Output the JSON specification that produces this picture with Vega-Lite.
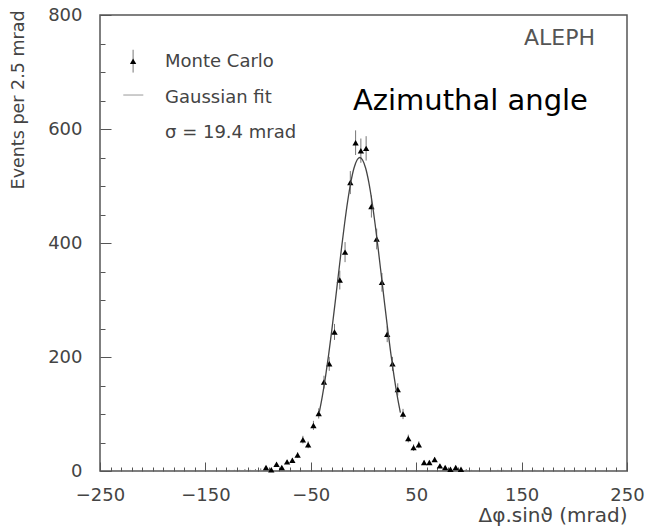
{
  "$schema": "https://vega.github.io/schema/vega-lite/v6.json",
  "width": 527,
  "height": 456,
  "autosize": "none",
  "padding": {"left": 100, "top": 15, "right": 23, "bottom": 60},
  "background": "white",
  "config": {
    "view": {"stroke": "#555", "strokeWidth": 1.5},
    "font": "DejaVu Sans",
    "axis": {"labelOverlap": false, "labelBound": false}
  },
  "datasets": {
    "mc": [
      {"x": -127.5, "n": 1, "err": 1}, {"x": -122.5, "n": 1, "err": 1}, {"x": -117.5, "n": 1, "err": 1},
      {"x": -112.5, "n": 2, "err": 1.3}, {"x": -107.5, "n": 1, "err": 1}, {"x": -102.5, "n": 2, "err": 1.3},
      {"x": -97.5, "n": 3, "err": 1.6}, {"x": -92.5, "n": 6, "err": 2.2}, {"x": -87.5, "n": 2, "err": 1.3},
      {"x": -82.5, "n": 12, "err": 3.1}, {"x": -77.5, "n": 6, "err": 2.2}, {"x": -72.5, "n": 16, "err": 3.6},
      {"x": -67.5, "n": 19, "err": 3.9}, {"x": -62.5, "n": 28, "err": 4.8}, {"x": -57.5, "n": 55, "err": 6.7},
      {"x": -52.5, "n": 46, "err": 6.1}, {"x": -47.5, "n": 80, "err": 8}, {"x": -42.5, "n": 101, "err": 9},
      {"x": -37.5, "n": 156, "err": 11.2}, {"x": -32.5, "n": 188, "err": 12.3}, {"x": -27.5, "n": 244, "err": 14},
      {"x": -22.5, "n": 335, "err": 16.5}, {"x": -17.5, "n": 384, "err": 17.6}, {"x": -12.5, "n": 506, "err": 20.2},
      {"x": -7.5, "n": 576, "err": 21.6}, {"x": -2.5, "n": 562, "err": 21.3}, {"x": 2.5, "n": 566, "err": 21.4},
      {"x": 7.5, "n": 464, "err": 19.4}, {"x": 12.5, "n": 407, "err": 18.2}, {"x": 17.5, "n": 331, "err": 16.4},
      {"x": 22.5, "n": 240, "err": 14}, {"x": 27.5, "n": 188, "err": 12.3}, {"x": 32.5, "n": 143, "err": 10.8},
      {"x": 37.5, "n": 100, "err": 9}, {"x": 42.5, "n": 57, "err": 6.8}, {"x": 47.5, "n": 41, "err": 5.8},
      {"x": 52.5, "n": 46, "err": 6.1}, {"x": 57.5, "n": 15, "err": 3.5}, {"x": 62.5, "n": 15, "err": 3.5},
      {"x": 67.5, "n": 20, "err": 4}, {"x": 72.5, "n": 9, "err": 2.7}, {"x": 77.5, "n": 6, "err": 2.2},
      {"x": 82.5, "n": 3, "err": 1.6}, {"x": 87.5, "n": 6, "err": 2.2}, {"x": 92.5, "n": 3, "err": 1.6},
      {"x": 97.5, "n": 2, "err": 1.3}, {"x": 102.5, "n": 1, "err": 1}, {"x": 127.5, "n": 1, "err": 1},
      {"x": 132.5, "n": 1, "err": 1}, {"x": 162.5, "n": 1, "err": 1}
    ],
    "fit": [
      {"x": -42, "n": 102.4}, {"x": -39, "n": 131.8}, {"x": -36, "n": 166.1}, {"x": -33, "n": 205.0},
      {"x": -30, "n": 248.0}, {"x": -27, "n": 294.1}, {"x": -24, "n": 341.6}, {"x": -21, "n": 388.7},
      {"x": -18, "n": 433.3}, {"x": -15, "n": 473.4}, {"x": -12, "n": 506.8}, {"x": -9, "n": 531.5},
      {"x": -6, "n": 546.1}, {"x": -3.5, "n": 550}, {"x": -1, "n": 546.1}, {"x": 2, "n": 531.5},
      {"x": 5, "n": 506.8}, {"x": 8, "n": 473.4}, {"x": 11, "n": 433.3}, {"x": 14, "n": 388.7},
      {"x": 17, "n": 341.6}, {"x": 20, "n": 294.1}, {"x": 23, "n": 248.0}, {"x": 26, "n": 205.0},
      {"x": 29, "n": 166.1}, {"x": 32, "n": 131.8}, {"x": 35, "n": 102.4}
    ],
    "legline": [{"x": -227.9, "n": 659.6}, {"x": -208.9, "n": 659.6}],
    "legpt": [{"x": -218.6, "n": 719, "err": 20}],
    "legtext": [
      {"x": -188.3, "n": 709, "t": "Monte Carlo"},
      {"x": -188.3, "n": 646, "t": "Gaussian fit"},
      {"x": -188.3, "n": 584, "t": "σ = 19.4 mrad"}
    ],
    "notes": [{"x": 219.6, "n": 747, "t": "ALEPH"}],
    "title": [{"x": -10, "n": 633, "t": "Azimuthal angle"}]
  },
  "encoding": {
    "x": {
      "field": "x", "type": "quantitative",
      "scale": {"domain": [-250, 250], "nice": false, "zero": false},
      "axis": {
        "values": [-250,-240,-230,-220,-210,-200,-190,-180,-170,-160,-150,-140,-130,-120,-110,-100,-90,-80,-70,-60,-50,-40,-30,-20,-10,0,10,20,30,40,50,60,70,80,90,100,110,120,130,140,150,160,170,180,190,200,210,220,230,240,250],
        "labelExpr": "(datum.value + 250) % 100 === 0 ? datum.label : ''",
        "tickSize": {"condition": {"test": "(datum.value + 250) % 100 === 0", "value": -9}, "value": -4},
        "tickColor": "#555",
        "domain": false,
        "grid": false,
        "labelFontSize": 18,
        "labelColor": "#444",
        "labelPadding": 24,
        "labelFlush": false,
        "labelOverlap": false,
        "title": "Δφ.sinϑ (mrad)",
        "titleFontSize": 20,
        "titleFontWeight": "normal",
        "titleColor": "#444",
        "titleAnchor": "end",
        "titleAlign": "right",
        "titleBaseline": "middle",
        "titleX": 527,
        "titleY": 44
      }
    },
    "y": {
      "field": "n", "type": "quantitative",
      "scale": {"domain": [0, 800], "nice": false},
      "axis": {
        "values": [0,50,100,150,200,250,300,350,400,450,500,550,600,650,700,750,800],
        "labelExpr": "datum.value % 200 === 0 ? datum.label : ''",
        "tickSize": {"condition": {"test": "datum.value % 200 === 0", "value": -11}, "value": -5},
        "tickColor": "#555",
        "domain": false,
        "grid": false,
        "labelFontSize": 18,
        "labelColor": "#444",
        "labelPadding": 29,
        "labelFlush": false,
        "labelOverlap": false,
        "title": "Events per 2.5 mrad",
        "titleFontSize": 17.5,
        "titleFontWeight": "normal",
        "titleColor": "#444",
        "titleAngle": -90,
        "titleAlign": "right",
        "titleBaseline": "middle",
        "titleX": -82,
        "titleY": -5
      }
    }
  },
  "layer": [
    {
      "data": {"name": "mc"},
      "mark": {"type": "errorbar", "ticks": false, "rule": {"color": "#777", "strokeWidth": 1}},
      "encoding": {"yError": {"field": "err"}}
    },
    {
      "data": {"name": "mc"},
      "transform": [{"filter": "abs(datum.x) < 95"}],
      "mark": {"type": "point", "shape": "triangle-up", "filled": true, "color": "black", "size": 40, "opacity": 1},
      "encoding": {}
    },
    {
      "data": {"name": "fit"},
      "mark": {"type": "line", "color": "#444", "strokeWidth": 1.3, "interpolate": "monotone"},
      "encoding": {}
    },
    {
      "data": {"name": "legline"},
      "mark": {"type": "line", "color": "#999", "strokeWidth": 1},
      "encoding": {}
    },
    {
      "data": {"name": "legpt"},
      "mark": {"type": "errorbar", "ticks": false, "rule": {"color": "#777", "strokeWidth": 1}},
      "encoding": {"yError": {"field": "err"}}
    },
    {
      "data": {"name": "legpt"},
      "mark": {"type": "point", "shape": "triangle-up", "filled": true, "color": "black", "size": 40, "opacity": 1},
      "encoding": {}
    },
    {
      "data": {"name": "legtext"},
      "mark": {"type": "text", "align": "left", "baseline": "alphabetic", "fontSize": 18, "color": "#444"},
      "encoding": {"text": {"field": "t"}}
    },
    {
      "data": {"name": "notes"},
      "mark": {"type": "text", "align": "right", "baseline": "alphabetic", "fontSize": 22, "color": "#555"},
      "encoding": {"text": {"field": "t"}}
    },
    {
      "data": {"name": "title"},
      "mark": {"type": "text", "align": "left", "baseline": "alphabetic", "fontSize": 29, "color": "black"},
      "encoding": {"text": {"field": "t"}}
    }
  ]
}
